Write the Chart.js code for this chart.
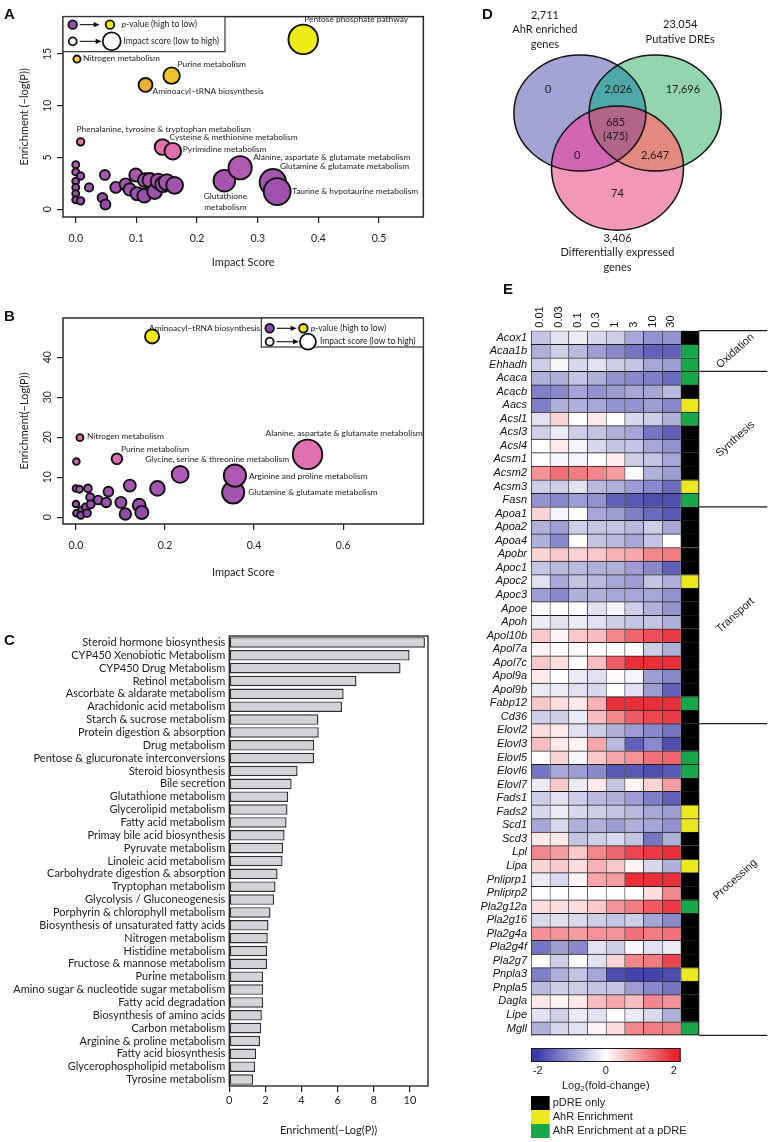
<!DOCTYPE html>
<html>
<head>
<meta charset="utf-8">
<title>AhR pathway figure</title>
<script src="https://cdn.jsdelivr.net/npm/chart.js@4.4.1/dist/chart.umd.min.js"></script>
<style>
  html, body { margin: 0; padding: 0; background: #fff; }
  body { position: relative; width: 769px; height: 1142px; overflow: hidden; }
  canvas { position: absolute; }
  .tag { position: absolute; font: bold 15px "Liberation Sans", Arial, sans-serif; line-height: 15px; color: #111; }
</style>
</head>
<body>
<canvas id="chartA" width="440" height="272" style="left:0;top:0"></canvas>
<canvas id="chartB" width="440" height="285" style="left:0;top:300px"></canvas>
<canvas id="chartC" width="440" height="517" style="left:0;top:625px"></canvas>
<canvas id="chartD" width="289" height="275" style="left:480px;top:0"></canvas>
<canvas id="chartE" width="299" height="862" style="left:470px;top:280px"></canvas>
<div class="tag" style="left:4px;top:6px">A</div>
<div class="tag" style="left:4px;top:308px">B</div>
<div class="tag" style="left:4px;top:632px">C</div>
<div class="tag" style="left:482px;top:6px">D</div>
<div class="tag" style="left:503px;top:281px">E</div>
<script>
// ---------- A: pathway impact, liver
const aOtherImpact = [0, 0, 0, 0, 0, 0, 0.008, 0.008, 0.022, 0.048, 0.044, 0.049, 0.066, 0.082, 0.089,
  0.099, 0.101, 0.113, 0.114, 0.122, 0.13, 0.136, 0.144, 0.15, 0.163];
const aOtherEnrich = [4.3, 3.6, 2.7, 2.1, 1.5, 0.9, 3.2, 0.8, 2.1, 3.3, 1.1, 0.45, 2.1, 2.4, 1.9,
  3.3, 1.5, 1.3, 2.8, 2.8, 1.7, 2.7, 2.4, 2.6, 2.3];
const aNamed = ['Nitrogen metabolism', 'Phenalanine, tyrosine & tryptophan metabolism', 'Aminoacyl\u2212tRNA biosynthesis',
  'Purine metabolism', 'Cysteine & methionine metabolism', 'Pyrimidine metabolism', 'Glutathione metabolism',
  'Alanine, aspartate & glutamate metabolism', 'Glutamine & glutamate metabolism',
  'Taurine & hypotaurine metabolism', 'Pentose phosphate pathway'];
const aNamedImpact = [0.002, 0.008, 0.115, 0.158, 0.143, 0.160, 0.245, 0.271, 0.325, 0.332, 0.375];
const aNamedEnrich = [14.5, 6.5, 12.0, 12.9, 6.0, 5.6, 2.75, 4.0, 2.6, 1.7, 16.4];
const aXTicks = [0, 0.1, 0.2, 0.3, 0.4, 0.5];
const aYTicks = [0, 5, 10, 15];

// ---------- B: pathway impact, second tissue
const bOtherImpact = [0.001, 0.183, 0.121, 0.073, 0, 0.008, 0.027, 0.032, 0.05, 0.068, 0.101, 0.142,
  0.111, 0.148, 0, 0.001, 0.013, 0.022, 0.033, 0.011, 0.025];
const bOtherEnrich = [13.9, 7.2, 7.9, 6.4, 7.2, 7.0, 7.2, 5.0, 4.3, 3.7, 3.7, 3.0,
  0.8, 1.2, 3.3, 1.0, 1.8, 2.5, 3.2, 0.5, 1.0];
const bNamed = ['Nitrogen metabolism', 'Purine metabolism', 'Aminoacyl\u2212tRNA biosynthesis',
  'Glycine, serine & threonine metabolism', 'Glutamine & glutamate metabolism',
  'Arginine and proline metabolism', 'Alanine, aspartate & glutamate metabolism'];
const bNamedImpact = [0.009, 0.092, 0.171, 0.234, 0.353, 0.357, 0.52];
const bNamedEnrich = [19.9, 14.6, 45.2, 10.7, 6.2, 10.4, 15.7];
const bXTicks = [0, 0.2, 0.4, 0.6];
const bYTicks = [0, 10, 20, 30, 40];

// ---------- C: KEGG enrichment
const cPathways = ['Steroid hormone biosynthesis', 'CYP450 Xenobiotic Metabolism', 'CYP450 Drug Metabolism',
  'Retinol metabolism', 'Ascorbate & aldarate metabolism', 'Arachidonic acid metabolism',
  'Starch & sucrose metabolism', 'Protein digestion & absorption', 'Drug metabolism',
  'Pentose & glucuronate interconversions', 'Steroid biosynthesis', 'Bile secretion',
  'Glutathione metabolism', 'Glycerolipid metabolism', 'Fatty acid metabolism',
  'Primay bile acid biosynthesis', 'Pyruvate metabolism', 'Linoleic acid metabolism',
  'Carbohydrate digestion & absorption', 'Tryptophan metabolism', 'Glycolysis / Gluconeogenesis',
  'Porphyrin & chlorophyll metabolism', 'Biosynthesis of unsaturated fatty acids', 'Nitrogen metabolism',
  'Histidine metabolism', 'Fructose & mannose metabolism', 'Purine metabolism',
  'Amino sugar & nucleotide sugar metabolism', 'Fatty acid degradation', 'Biosynthesis of amino acids',
  'Carbon metabolism', 'Arginine & proline metabolism', 'Fatty acid biosynthesis',
  'Glycerophospholipid metabolism', 'Tyrosine metabolism'];
const cEnrichment = [10.83, 9.98, 9.48, 7.04, 6.33, 6.24, 4.93, 4.95, 4.70, 4.69, 3.78, 3.45,
  3.26, 3.22, 3.17, 3.06, 2.98, 2.95, 2.67, 2.56, 2.48, 2.28, 2.17, 2.13, 2.09, 2.09, 1.87,
  1.87, 1.87, 1.80, 1.76, 1.70, 1.48, 1.43, 1.32];
const cXTicks = [0, 2, 4, 6, 8, 10];

// ---------- D: Venn
const vennSetTitles = [['AhR enriched', 'genes'], ['Putative DREs'], ['Differentially expressed', 'genes']];
const vennTotals = [2711, 23054, 3406];
const vennRegionCounts = [0, 17696, 74, 2026, 0, 2647, 685]; // A, B, C, AB, AC, BC, ABC
const vennCoreSubset = 475;

// ---------- E: lipid gene heatmap
const doses = ['0.01', '0.03', '0.1', '0.3', '1', '3', '10', '30'];
const genes = ['Acox1', 'Acaa1b', 'Ehhadh', 'Acaca', 'Acacb', 'Aacs', 'Acsl1', 'Acsl3', 'Acsl4', 'Acsm1',
  'Acsm2', 'Acsm3', 'Fasn', 'Apoa1', 'Apoa2', 'Apoa4', 'Apobr', 'Apoc1', 'Apoc2', 'Apoc3', 'Apoe', 'Apoh',
  'Apol10b', 'Apol7a', 'Apol7c', 'Apol9a', 'Apol9b', 'Fabp12', 'Cd36', 'Elovl2', 'Elovl3', 'Elovl5',
  'Elovl6', 'Elovl7', 'Fads1', 'Fads2', 'Scd1', 'Scd3', 'Lpl', 'Lipa', 'Pnliprp1', 'Pnliprp2', 'Pla2g12a',
  'Pla2g16', 'Pla2g4a', 'Pla2g4f', 'Pla2g7', 'Pnpla3', 'Pnpla5', 'Dagla', 'Lipe', 'Mgll'];
const foldChange = [
  [-0.6, -0.3, -0.2, -0.4, -0.5, -0.9, -1.1, -1.1],
  [-0.8, -0.5, -0.7, -1.0, -1.2, -1.4, -1.6, -1.6],
  [-0.5, -0.1, -0.4, -0.3, -0.5, -0.6, -0.9, -1.0],
  [-0.8, -0.8, -0.6, -0.8, -1.1, -1.2, -1.3, -1.5],
  [-1.3, -1.2, -0.9, -1.1, -1.0, -0.9, -0.9, -0.7],
  [-1.3, -0.8, -0.8, -0.9, -1.1, -1.1, -1.0, -1.2],
  [-0.3, 0.4, 0, 0.2, 0, -0.4, -0.5, -0.8],
  [-0.5, -0.2, -0.5, -0.6, -0.8, -0.9, -1.4, -1.6],
  [0, 0.2, -0.1, -0.4, -0.6, -0.6, -0.9, -1.1],
  [0, -0.1, -0.1, 0, 0.15, -0.5, -0.6, -0.9],
  [1.0, 1.3, 1.2, 1.1, 0.9, 0, -0.8, -1.0],
  [-0.5, -0.5, -0.3, -0.7, -0.8, -1.0, -1.2, -1.5],
  [-1.1, -1.2, -1.0, -1.1, -1.6, -1.7, -1.8, -1.8],
  [0.4, -0.1, 0, -0.9, -1.0, -1.3, -1.5, -1.7],
  [-0.8, -1.0, -0.5, -0.6, -0.6, -0.7, -0.5, -0.9],
  [-0.8, -1.2, 0, -0.6, -0.7, -0.9, -0.6, 0],
  [0.4, 0.5, 0.4, 0.5, 0.7, 0.8, 1.1, 1.2],
  [-0.6, -0.7, -0.7, -0.8, -0.8, -1.0, -1.2, -1.6],
  [-0.3, -0.9, -0.6, -0.7, -0.9, -1.0, -0.6, -0.8],
  [-1.0, -1.2, -0.8, -0.8, -0.9, -0.9, -0.9, -1.1],
  [0.05, 0, 0, -0.3, -0.1, -0.5, -0.8, -1.1],
  [-0.2, -0.3, -0.2, -0.3, -0.5, -0.6, -0.6, -0.8],
  [0.5, 0.1, 0.5, 0.6, 1.1, 1.4, 1.6, 1.8],
  [0.1, 0, 0.05, 0, 0, 0, -0.5, -0.8],
  [0.5, 0.3, 0, 0.6, 1.5, 1.9, 1.9, 1.9],
  [0.2, 0, -0.2, -0.3, 0.05, -0.1, -1.0, -1.2],
  [-0.2, -0.2, -0.3, -0.4, 0, -0.3, -1.0, -1.6],
  [0.5, 0.3, 0.2, 0.7, 1.9, 1.9, 1.9, 1.9],
  [-0.5, -0.5, -0.2, 0.6, 1.1, 1.5, 1.7, 1.8],
  [0.3, 0.2, -0.3, -0.5, -0.8, -1.0, -1.2, -1.4],
  [0.6, 0.2, 0.1, 0.8, -0.7, -1.6, -1.2, -1.8],
  [0, 0.4, -0.1, 0.5, 0.8, 1.0, 1.3, 1.4],
  [-1.4, -0.9, -1.0, -1.2, -1.7, -1.7, -1.8, -1.7],
  [-0.2, 0.5, -0.2, 0.2, -0.6, 0.1, 0.4, 0.9],
  [-0.5, -0.3, -0.5, -0.7, -0.8, -1.0, -1.3, -1.6],
  [-0.4, -0.2, -0.4, -0.5, -0.6, -0.7, -0.9, -1.0],
  [-0.9, -0.4, -0.8, -0.8, -1.0, -0.8, -0.9, -1.1],
  [0.2, 0.2, -0.6, -0.5, -0.4, -0.6, -1.4, -0.8],
  [1.1, 0.9, 0.5, 1.1, 1.4, 1.7, 1.8, 1.9],
  [0.4, 0.5, 0.3, 0.7, 0.5, 0.1, -0.4, -0.8],
  [-0.2, -0.4, 0.1, 0.8, 0.9, 1.9, 1.9, 1.9],
  [0, 0, 0, 0, 0, 0, 0.3, 1.1],
  [0.3, 0.3, 0.3, 0.5, 1.0, 1.2, 1.5, 1.8],
  [-0.4, -0.3, -0.4, -0.5, -0.6, -0.5, -0.9, -1.2],
  [1.0, 1.0, 0.9, 1.0, 1.0, 1.3, 1.2, 1.3],
  [-1.4, -1.0, -1.2, -0.3, -0.5, -0.1, -0.3, -0.2],
  [0, -0.5, 0, -0.3, 0.4, 1.1, 1.2, 1.7],
  [-1.3, -0.8, -0.6, -0.9, -1.8, -1.9, -1.9, -1.8],
  [-0.7, -0.5, -0.5, -0.6, -0.6, -1.0, -1.2, -1.4],
  [0.2, 0.1, 0.2, 0.6, 0.8, 0.6, 1.1, 1.0],
  [-0.3, -0.5, -0.2, -0.3, 0, -0.2, -0.4, -0.8],
  [-0.8, -0.4, -0.3, 0.1, 0.3, 1.1, 1.2, 1.2]
];
// 0 = pDRE only, 1 = AhR enrichment, 2 = AhR enrichment at a pDRE
const bindingClass = [0, 2, 2, 2, 0, 1, 2, 0, 0, 0, 0, 1, 2, 0, 0, 0, 0, 0, 1, 0, 0, 0, 0, 0, 0, 0, 0, 2, 0,
  0, 0, 2, 2, 0, 0, 1, 1, 0, 0, 1, 0, 0, 2, 0, 0, 0, 0, 1, 0, 0, 0, 2];
const bindingNames = ['pDRE only', 'AhR Enrichment', 'AhR Enrichment at a pDRE'];
const geneGroups = ['Oxidation', 'Synthesis', 'Transport', 'Processing'];
const geneGroupSizes = [3, 10, 16, 23];

// ---------- styling
Chart.defaults.font.family = 'Lato, "Open Sans", sans-serif';
Chart.defaults.color = '#1a1a1a';
Chart.defaults.animation = false;
Chart.defaults.responsive = false;
Chart.defaults.devicePixelRatio = 1;
Chart.defaults.plugins.legend.display = false;
Chart.defaults.plugins.tooltip.enabled = false;

const pStops = [
  [0.00, [146, 76, 170]], [0.24, [176, 88, 180]], [0.34, [224, 112, 178]], [0.45, [228, 118, 136]],
  [0.72, [234, 172, 62]], [0.80, [240, 198, 44]], [0.90, [240, 228, 30]], [1.00, [240, 234, 24]]
];
function rampColor(t) {
  t = Math.max(0, Math.min(1, t));
  for (let i = 1; i < pStops.length; i++) {
    if (t <= pStops[i][0]) {
      const [t0, c0] = pStops[i - 1], [t1, c1] = pStops[i];
      const f = (t - t0) / (t1 - t0);
      return 'rgb(' + c0.map((c, k) => Math.round(c + (c1[k] - c) * f)).join(',') + ')';
    }
  }
  return 'rgb(240,234,24)';
}
function heatColor(v) {
  const t = Math.max(-2, Math.min(2, v)) / 2;
  const end = t < 0 ? [58, 58, 168] : [232, 36, 46];
  const a = Math.abs(t);
  return 'rgb(' + end.map(c => Math.round(255 + (c - 255) * a)).join(',') + ')';
}
const bindingColors = ['#000000', '#ece81e', '#18a84a'];

const framePlugin = {
  id: 'frame',
  afterDatasetsDraw(chart, args, opts) {
    const a = chart.chartArea, ctx = chart.ctx;
    ctx.save();
    ctx.strokeStyle = opts.color || '#2a2a2a';
    ctx.lineWidth = opts.width || 1.5;
    ctx.strokeRect(a.left, a.top, a.right - a.left, a.bottom - a.top);
    ctx.restore();
  }
};

function drawCircle(ctx, x, y, r, fill) {
  ctx.beginPath();
  ctx.arc(x, y, r, 0, Math.PI * 2);
  ctx.fillStyle = fill;
  ctx.fill();
  ctx.lineWidth = 1.8;
  ctx.strokeStyle = '#111';
  ctx.stroke();
}
function drawArrow(ctx, x1, x2, y) {
  ctx.beginPath();
  ctx.moveTo(x1, y); ctx.lineTo(x2 - 4, y);
  ctx.lineWidth = 1.1; ctx.strokeStyle = '#111'; ctx.stroke();
  ctx.beginPath();
  ctx.moveTo(x2, y); ctx.lineTo(x2 - 6, y - 2.6); ctx.lineTo(x2 - 6, y + 2.6); ctx.closePath();
  ctx.fillStyle = '#111'; ctx.fill();
}

const bubbleNotes = {
  id: 'bubbleNotes',
  afterDatasetsDraw(chart, args, opts) {
    const ctx = chart.ctx;
    const pts = chart.getDatasetMeta(0).data;
    const raw = chart.data.datasets[0].data;
    ctx.save();
    ctx.fillStyle = '#1a1a1a';
    ctx.font = '8.4px Lato';
    ctx.textBaseline = 'middle';
    raw.forEach((d, i) => {
      const p = d.name && opts.place[d.name];
      if (!p) return;
      ctx.textAlign = p.align || 'left';
      (p.lines || [d.name]).forEach((t, k) => ctx.fillText(t, pts[i].x + p.dx, pts[i].y + p.dy + k * 10.5));
    });
    // size / colour key
    const L = opts.key, a = chart.chartArea;
    const bx = L.right ? a.right - L.w : a.left, by = a.top;
    ctx.fillStyle = '#fff';
    ctx.fillRect(bx, by, L.w, L.h);
    ctx.lineWidth = 1.2; ctx.strokeStyle = '#333';
    ctx.strokeRect(bx, by, L.w, L.h);
    drawCircle(ctx, bx + L.c1, by + L.y1, 4.3, rampColor(0));
    drawArrow(ctx, bx + L.c1 + 7, bx + L.c1 + 27, by + L.y1);
    drawCircle(ctx, bx + L.c2, by + L.y1, 4.3, rampColor(1));
    drawCircle(ctx, bx + L.c1, by + L.y2, 4, '#fff');
    drawArrow(ctx, bx + L.c1 + 7, bx + L.big - L.bigR - 1, by + L.y2);
    drawCircle(ctx, bx + L.big, by + L.y2, L.bigR, '#fff');
    ctx.fillStyle = '#1a1a1a';
    ctx.textAlign = 'left';
    ctx.font = 'italic 8.5px Lato';
    ctx.fillText('p', bx + L.t1, by + L.y1);
    const pw = ctx.measureText('p').width;
    ctx.font = '8.5px Lato';
    ctx.fillText('-value (high to low)', bx + L.t1 + pw, by + L.y1);
    ctx.fillText('Impact score (low to high)', bx + L.t2, by + L.y2);
    ctx.restore();
  }
};

function bubblePoints(impacts, enrich, names) {
  return impacts.map((x, i) => ({ x: x, y: enrich[i], name: names ? names[i] : '' }));
}

function bubbleChart(id, pts, xr, yr, xTicks, yTicks, yTitle, xHeight, xTitlePad, radius, notes) {
  const maxY = Math.max(...pts.map(p => p.y));
  return new Chart(document.getElementById(id), {
    type: 'bubble',
    data: { datasets: [{
      data: pts,
      radius: c => radius(c.raw.x),
      backgroundColor: c => rampColor(c.raw.y / maxY),
      borderColor: '#111',
      borderWidth: 1.9
    }] },
    options: {
      layout: { padding: { left: 0, top: notes.top, right: 12, bottom: 0 } },
      scales: {
        x: {
          type: 'linear', min: xr[0], max: xr[1],
          afterBuildTicks: s => { s.ticks = xTicks.map(v => ({ value: v })); },
          grid: { drawOnChartArea: false, tickLength: 6, color: '#222', lineWidth: 1.2 },
          border: { display: false },
          ticks: { callback: v => v.toFixed(1), padding: 9, font: { size: 10.5 }, color: '#222', maxRotation: 0, autoSkip: false },
          title: { display: true, text: 'Impact Score', font: { size: 11 }, color: '#222', padding: { top: 0, bottom: xTitlePad } },
          afterFit: s => { s.height = xHeight; }
        },
        y: {
          type: 'linear', min: yr[0], max: yr[1],
          afterBuildTicks: s => { s.ticks = yTicks.map(v => ({ value: v })); },
          grid: { drawOnChartArea: false, tickLength: 6, color: '#222', lineWidth: 1.2 },
          border: { display: false },
          ticks: { minRotation: 90, maxRotation: 90, crossAlign: 'center', padding: 3, font: { size: 10.5 }, color: '#222', autoSkip: false },
          title: { display: true, text: yTitle, font: { size: 11 }, color: '#222', padding: { top: 18, bottom: 0 } },
          afterFit: s => { s.width = 63; }
        }
      },
      plugins: { frame: { width: 1.5 }, bubbleNotes: notes }
    },
    plugins: [framePlugin, bubbleNotes]
  });
}

// A
bubbleChart('chartA',
  bubblePoints(aOtherImpact, aOtherEnrich).concat(bubblePoints(aNamedImpact, aNamedEnrich, aNamed)),
  [-0.021, 0.573], [-0.76, 18.6], aXTicks, aYTicks, 'Enrichment (\u2212log(P))', 55, 3,
  x => 3.5 + 30 * x,
  {
    top: 13,
    key: { right: false, w: 162, h: 35, y1: 8, y2: 24.7, c1: 9.7, c2: 47, big: 48.7, bigR: 9, t1: 58.5, t2: 60.5 },
    place: {
      'Pentose phosphate pathway': { dx: 1, dy: -20 },
      'Nitrogen metabolism': { dx: 6, dy: -1 },
      'Purine metabolism': { dx: 6, dy: -11 },
      'Aminoacyl\u2212tRNA biosynthesis': { dx: 7, dy: 6 },
      'Phenalanine, tyrosine & tryptophan metabolism': { dx: -4, dy: -13 },
      'Cysteine & methionine metabolism': { dx: 7, dy: -10 },
      'Pyrimidine metabolism': { dx: 10, dy: -2 },
      'Alanine, aspartate & glutamate metabolism': { dx: 13, dy: -10 },
      'Glutamine & glutamate metabolism': { dx: 7, dy: -16 },
      'Taurine & hypotaurine metabolism': { dx: 15, dy: 0 },
      'Glutathione metabolism': { dx: 1, dy: 16, align: 'center', lines: ['Glutathione', 'metabolism'] }
    }
  });

// B
bubbleChart('chartB',
  bubblePoints(bOtherImpact, bOtherEnrich).concat(bubblePoints(bNamedImpact, bNamedEnrich, bNamed)),
  [-0.029, 0.78], [-1.7, 49.8], bXTicks, bYTicks, 'Enrichment(\u2212Log(P))', 61, 6,
  x => 3.3 + 22 * x,
  {
    top: 18,
    key: { right: true, w: 162, h: 29, y1: 10.3, y2: 23.7, c1: 8.3, c2: 42, big: 46.6, bigR: 8, t1: 49.3, t2: 58.6 },
    place: {
      'Aminoacyl\u2212tRNA biosynthesis': { dx: -3, dy: -8 },
      'Nitrogen metabolism': { dx: 7, dy: -1 },
      'Purine metabolism': { dx: 4, dy: -10 },
      'Glycine, serine & threonine metabolism': { dx: -35, dy: -15 },
      'Alanine, aspartate & glutamate metabolism': { dx: -42, dy: -21 },
      'Arginine and proline metabolism': { dx: 14, dy: 1 },
      'Glutamine & glutamate metabolism': { dx: 15, dy: 0 }
    }
  });

// C
new Chart(document.getElementById('chartC'), {
  type: 'bar',
  data: {
    labels: cPathways,
    datasets: [{
      data: cEnrichment,
      backgroundColor: '#d2d4d9',
      borderColor: '#2e2e2e',
      borderWidth: 1.4,
      borderSkipped: false,
      barPercentage: 0.82,
      categoryPercentage: 1
    }]
  },
  options: {
    indexAxis: 'y',
    layout: { padding: { left: 0, top: 11, right: 12, bottom: 0 } },
    scales: {
      x: {
        type: 'linear', min: 0, max: 11,
        afterBuildTicks: s => { s.ticks = cXTicks.map(v => ({ value: v })); },
        grid: { drawOnChartArea: false, tickLength: 6, color: '#222', lineWidth: 1.2 },
        border: { display: false },
        ticks: { padding: 2, font: { size: 11 }, color: '#222', maxRotation: 0, autoSkip: false },
        title: { display: true, text: 'Enrichment(\u2212Log(P))', font: { size: 11 }, color: '#222', padding: { top: 0, bottom: 5 } },
        afterFit: s => { s.height = 56; }
      },
      y: {
        grid: { display: false, drawTicks: false },
        border: { display: false },
        ticks: { autoSkip: false, padding: 4, font: { size: 11 }, color: '#222' },
        afterFit: s => { s.width = 229.3; }
      }
    },
    plugins: { frame: { width: 1.4 } }
  },
  plugins: [framePlugin]
});

// D: Venn (layout of three symmetric sets, unit radius; the lower set drawn a little taller)
const vennCentres = [{ x: -0.57, y: 0.45 }, { x: 0.57, y: 0.45 }, { x: 0, y: -0.5 }];
const vennShape = [[1, 1], [1, 1], [1, 1.07]];
const vennRegionSpots = [[-1.05, 0.86], [0.99, 0.86], [0, -0.93], [0.01, 0.86], [-0.61, -0.29], [0.57, -0.29], [-0.03, 0.28]];
const vennTitleSpots = [[-1.10, 2.14], [0.95, 1.97], [0.0, -1.71]];
const vennFills = ['#a3a3d6', '#92d5ae', '#f197b7'];
const vennPairFills = { ab: '#4fa9aa', ac: '#d166b6', bc: '#e38a7e', abc: '#b06589' };

const vennPlugin = {
  id: 'venn',
  afterDatasetsDraw(chart) {
    const { ctx, scales: { x, y } } = chart;
    const ux = x.getPixelForValue(1) - x.getPixelForValue(0);
    const uy = y.getPixelForValue(0) - y.getPixelForValue(1);
    const pts = chart.getDatasetMeta(0).data;
    const path = i => { ctx.beginPath(); ctx.ellipse(pts[i].x, pts[i].y, ux * vennShape[i][0], uy * vennShape[i][1], 0, 0, Math.PI * 2); };
    const fill = (i, c) => { path(i); ctx.fillStyle = c; ctx.fill(); };
    ctx.save();
    [0, 1, 2].forEach(i => fill(i, vennFills[i]));
    ctx.save(); path(0); ctx.clip(); fill(1, vennPairFills.ab); fill(2, vennPairFills.ac); ctx.restore();
    ctx.save(); path(1); ctx.clip(); fill(2, vennPairFills.bc); ctx.restore();
    ctx.save(); path(0); ctx.clip(); path(1); ctx.clip(); fill(2, vennPairFills.abc); ctx.restore();
    ctx.lineWidth = 1.5; ctx.strokeStyle = '#111';
    [0, 1, 2].forEach(i => { path(i); ctx.stroke(); });
    // counts
    ctx.fillStyle = '#1a1a1a';
    ctx.font = '11px Lato';
    ctx.textAlign = 'center';
    ctx.textBaseline = 'middle';
    vennRegionCounts.forEach((n, i) => {
      const px = x.getPixelForValue(vennRegionSpots[i][0]), py = y.getPixelForValue(vennRegionSpots[i][1]);
      ctx.fillText(n.toLocaleString('en-US'), px, py);
      if (i === 6) ctx.fillText('(' + vennCoreSubset + ')', px, py + 14);
    });
    vennTotals.forEach((n, i) => {
      const px = x.getPixelForValue(vennTitleSpots[i][0]), py = y.getPixelForValue(vennTitleSpots[i][1]);
      [n.toLocaleString('en-US')].concat(vennSetTitles[i]).forEach((t, k) => ctx.fillText(t, px, py + k * 14.5));
    });
    ctx.restore();
  }
};

new Chart(document.getElementById('chartD'), {
  type: 'scatter',
  data: { datasets: [{ data: vennCentres, pointRadius: 0 }] },
  options: {
    layout: { padding: 0 },
    scales: {
      x: { type: 'linear', min: -2.083, max: 2.295, display: false },
      y: { type: 'linear', min: -2.343, max: 2.398, display: false }
    }
  },
  plugins: [vennPlugin]
});

// E: heatmap as stacked unit bars, one dataset per dose plus the binding column
const cellBorder = { top: 1, left: 1, right: 0, bottom: 0 };
const heatSets = doses.map((d, k) => ({
  label: d,
  data: genes.map(() => 1),
  backgroundColor: foldChange.map(row => heatColor(row[k])),
  borderColor: '#1a1a1a', borderWidth: cellBorder, borderSkipped: false,
  barPercentage: 1, categoryPercentage: 1
}));
heatSets.push({
  label: 'binding',
  data: genes.map(() => 1),
  backgroundColor: bindingClass.map(c => bindingColors[c]),
  borderColor: '#1a1a1a', borderWidth: cellBorder, borderSkipped: false,
  barPercentage: 1, categoryPercentage: 1
});

const heatExtras = {
  id: 'heatExtras',
  afterDraw(chart) {
    const { ctx, chartArea: a, scales: { x } } = chart;
    const n = genes.length;
    const rowH = (a.bottom - a.top) / n;
    ctx.save();
    ctx.strokeStyle = '#1a1a1a';
    ctx.lineWidth = 1;
    ctx.beginPath();
    ctx.moveTo(a.left, a.bottom - 0.5); ctx.lineTo(a.right, a.bottom - 0.5);
    ctx.moveTo(a.right - 0.5, a.top); ctx.lineTo(a.right - 0.5, a.bottom);
    ctx.stroke();
    // group separators and names
    let start = 0;
    ctx.lineWidth = 1.2;
    ctx.font = '11px "Liberation Sans", Arial';
    ctx.fillStyle = '#1a1a1a';
    ctx.textAlign = 'center';
    ctx.textBaseline = 'middle';
    const edge = i => a.top + i * rowH;
    ctx.beginPath(); ctx.moveTo(a.right, edge(0)); ctx.lineTo(a.right + 68, edge(0)); ctx.stroke();
    geneGroupSizes.forEach((sz, g) => {
      const end = start + sz;
      ctx.beginPath(); ctx.moveTo(a.right, edge(end)); ctx.lineTo(a.right + 68, edge(end)); ctx.stroke();
      ctx.save();
      ctx.translate(a.right + 36, (edge(start) + edge(end)) / 2);
      ctx.rotate(-42 * Math.PI / 180);
      ctx.fillText(geneGroups[g], 0, 0);
      ctx.restore();
      start = end;
    });
    // colour bar
    const cl = a.left, cr = x.getPixelForValue(8), ct = 768, ch = 14;
    const grad = ctx.createLinearGradient(cl, 0, cr, 0);
    for (let i = 0; i <= 44; i++) grad.addColorStop(i / 44, heatColor(-2.2 + i * 0.1));
    ctx.fillStyle = grad;
    ctx.fillRect(cl, ct, cr - cl, ch);
    ctx.lineWidth = 1;
    ctx.strokeRect(cl + 0.5, ct + 0.5, cr - cl - 1, ch - 1);
    ctx.fillStyle = '#1a1a1a';
    [-2, 0, 2].forEach(v => ctx.fillText(String(v), cl + (v + 2.2) / 4.4 * (cr - cl), ct + ch + 9));
    const mid = (cl + cr) / 2, ly = ct + ch + 24;
    const w1 = ctx.measureText('Log').width, w3 = ctx.measureText('(fold-change)').width;
    ctx.font = '8px "Liberation Sans", Arial';
    const w2 = ctx.measureText('2').width;
    const sx = mid - (w1 + w2 + w3) / 2;
    ctx.textAlign = 'left';
    ctx.fillText('2', sx + w1, ly + 3);
    ctx.font = '11px "Liberation Sans", Arial';
    ctx.fillText('Log', sx, ly);
    ctx.fillText('(fold-change)', sx + w1 + w2, ly);
    // binding key
    const kw = x.getPixelForValue(1) - x.getPixelForValue(0);
    bindingNames.forEach((nm, i) => {
      const ky = 816 + i * 14;
      ctx.fillStyle = bindingColors[i];
      ctx.fillRect(cl, ky, kw, 14);
      ctx.fillStyle = '#1a1a1a';
      ctx.fillText(nm, cl + kw + 3, ky + 7);
    });
    ctx.restore();
  }
};

new Chart(document.getElementById('chartE'), {
  type: 'bar',
  data: { labels: genes, datasets: heatSets },
  options: {
    indexAxis: 'y',
    layout: { padding: { left: 0, top: 0, right: 69.7, bottom: 106.7 } },
    scales: {
      x: { type: 'linear', stacked: true, min: 0, max: 9, display: false },
      y: {
        stacked: true,
        grid: { display: false, drawTicks: false },
        border: { display: false },
        ticks: { autoSkip: false, padding: 4, color: '#111', font: { family: '"Liberation Sans", Arial', size: 11, style: 'italic' } },
        afterFit: s => { s.width = 61; }
      },
      xTop: {
        type: 'category', position: 'top', labels: doses.concat(['']), offset: true,
        grid: { display: false, drawTicks: false },
        border: { display: false },
        ticks: { minRotation: 90, maxRotation: 90, autoSkip: false, padding: 3, labelOffset: 13.2, color: '#111', font: { family: '"Liberation Sans", Arial', size: 11 } },
        afterFit: s => { s.height = 50.7; }
      }
    }
  },
  plugins: [heatExtras]
});
</script>
</body>
</html>
